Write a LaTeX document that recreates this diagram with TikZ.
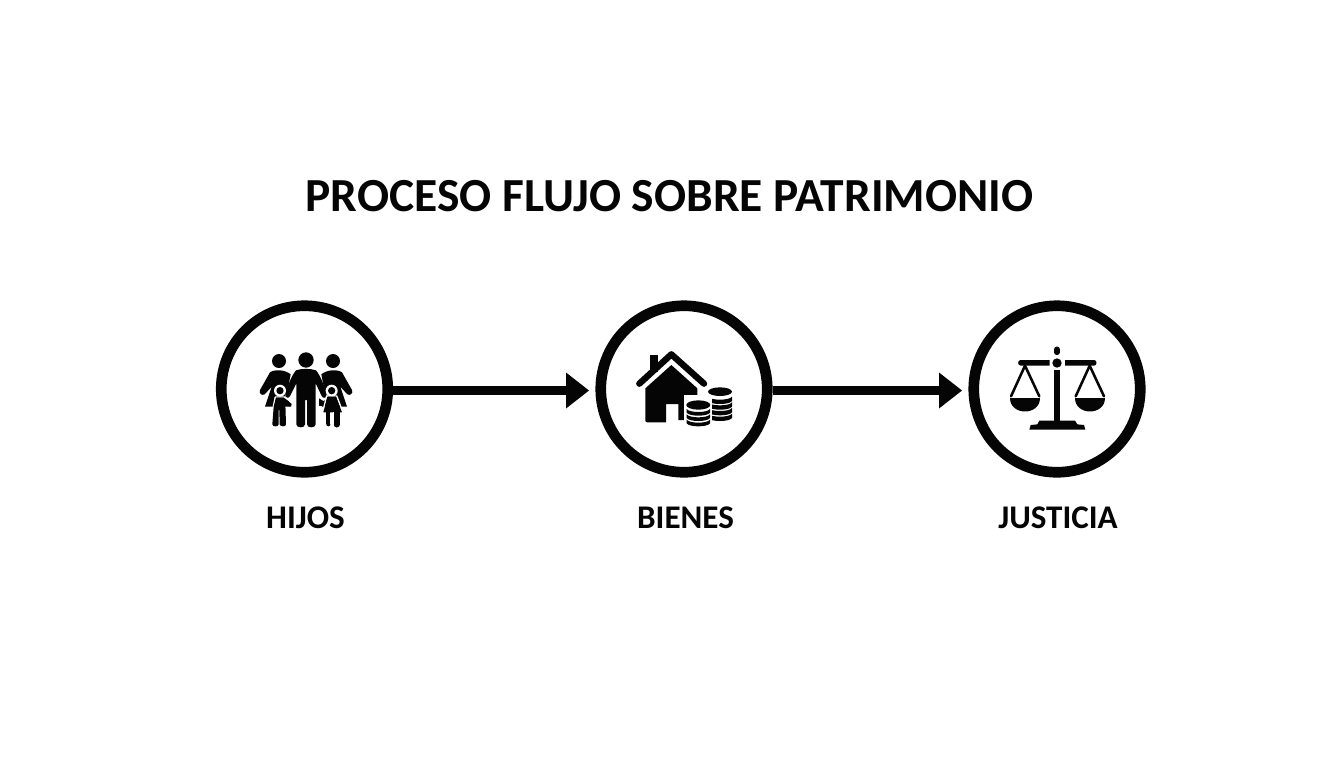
\documentclass[tikz,border=0pt]{standalone}
\usepackage{fontspec}
\setmainfont{Carlito}
\definecolor{ink}{HTML}{050505}
\tikzset{
  x=0.75pt,y=-0.75pt,
  ring/.style={circle,draw=ink,line width=8pt,fill=white,minimum size=166.5*0.75pt,inner sep=0pt},
  conn/.style={draw=ink,line width=7.4pt},
  head/.style={fill=ink,draw=none},
  lbl/.style={font=\bfseries\fontsize{24.8}{28}\selectfont,text=ink,inner sep=0pt,anchor=base},
  ttl/.style={font=\bfseries\fontsize{35.6}{40}\selectfont,text=ink,inner sep=0pt,anchor=base},
  icl/.style={draw=ink,line cap=round,line join=round},
  halo/.style={draw=white,line width=1.1pt,line cap=round,line join=round},
}
\begin{document}
\begin{tikzpicture}
\useasboundingbox (0,0) rectangle (1344,768);
\fill[white] (0,0) rectangle (1344,768);
\node[ttl] (title) at (669.5,211) {PROCESO FLUJO SOBRE PATRIMONIO};
\node[ring] (c1) at (304.5,389) {};
\node[ring] (c2) at (684,389) {};
\node[ring] (c3) at (1057,389) {};
\coordinate (t1) at (589,390.5);
\coordinate (t2) at (962,390.5);
\draw[conn] (c1.east |- t1) -- ([xshift=-17pt]t1);
\fill[head] (t1) -- ++(-23,-18) -- ++(0,36) -- cycle;
\draw[conn] (c2.east |- t2) -- ([xshift=-17pt]t2);
\fill[head] (t2) -- ++(-23,-18) -- ++(0,36) -- cycle;
\node[lbl] (l1) at (305.5,528) {HIJOS};
\node[lbl] (l2) at (685.5,528) {BIENES};
\node[lbl] (l3) at (1058,528) {JUSTICIA};
% family
\begin{scope}[shift={(210,295)},x=0.25pt,y=-0.25pt]
 \fill[ink] (207,198) circle (21);
 \fill[ink] (369,198) circle (21);
 \fill[ink] (288,195) circle (23);
 % left adult
 \fill[ink] (180,232) .. controls (195,222) and (225,224) .. (242,238) -- (232,290) -- (240,335) -- (165,335) -- (185,275) -- (164,298) .. controls (155,303) and (146,295) .. (150,285) -- cycle;
 % right adult
 \fill[ink] (396,232) .. controls (381,222) and (351,224) .. (334,238) -- (344,290) -- (336,335) -- (411,335) -- (391,275) -- (412,298) .. controls (421,303) and (430,295) .. (426,285) -- cycle;
 % father
 \path[fill=white] (222,310) -- (255,225) -- (322,225) -- (356,310) -- (335,320) -- (322,390) -- (255,390) -- (240,320) -- cycle;
 \fill[ink] (258,226) .. controls (275,220) and (301,220) .. (318,226) .. controls (330,240) and (345,275) .. (350,298) .. controls (352,310) and (340,312) .. (335,303) -- (317,265) -- (317,388) .. controls (317,400) and (291,400) .. (291,388) -- (291,315) -- (285,315) -- (285,388) .. controls (285,400) and (259,400) .. (259,388) -- (259,265) -- (240,303) .. controls (235,312) and (223,310) .. (226,298) .. controls (231,275) and (246,240) .. (258,226) -- cycle;
 % left child
 \fill[white] (210,287) circle (18);
 \fill[ink] (210,287) circle (11);
 \draw[halo] (190,335) -- (196,306) -- (224,306) -- (247,322);
 \fill[ink] (198,308) -- (222,308) -- (245,327) .. controls (248,335) and (240,338) .. (236,334) -- (226,325) -- (228,388) .. controls (228,396) and (210,396) .. (209,388) -- (208,345) -- (206,345) -- (206,388) .. controls (205,396) and (187,396) .. (187,388) -- (191,335) -- cycle;
 % right child
 \fill[white] (365,287) circle (18);
 \fill[ink] (365,287) circle (11);
 \fill[ink] (327,310) -- (343,320) -- (340,334) -- (327,332) -- cycle;
 \draw[halo] (338,352) -- (350,303) -- (380,303) -- (398,350);
 \fill[ink] (352,305) -- (378,305) -- (396,352) -- (340,352) -- cycle;
 \fill[ink] (349,352) rectangle (361,388);
 \fill[ink] (355,388) circle (6);
 \fill[ink] (371,335) rectangle (390,388);
 \fill[ink] (380.5,388) circle (9.5);
 \fill[white] (367.5,352) rectangle (370.5,392);
\end{scope}
% house + coins
\begin{scope}[shift={(590,295)},x=0.25pt,y=-0.25pt]
 \fill[ink] (179,180) rectangle (205,230);
 \draw[icl,line width=4.8pt] (148,266) -- (244,178) -- (342,266);
 \fill[ink] (166,280) -- (244,210) -- (322,280) -- (322,375) -- (265,375) -- (265,327) -- (228,327) -- (228,382) -- (172,382) .. controls (168,382) and (166,380) .. (166,376) -- cycle;
 % rear stack
 \fill[white] (283,300) rectangle (430,400);
 \fill[ink] (390,290) ellipse (36 and 13);
 \foreach \yy in {305,322,339,356}{
  \fill[ink] (354,\yy) -- (354,\yy+13) .. controls (362,\yy+25) and (418,\yy+25) .. (426,\yy+13) -- (426,\yy) .. controls (418,\yy+12) and (362,\yy+12) .. (354,\yy) -- cycle;
 }
 % front stack
 \fill[white] (283,305) rectangle (365,405);
 \fill[ink] (325,330) ellipse (36 and 14);
 \foreach \yy in {345,361,377}{
  \fill[ink] (290,\yy-3) -- (290,\yy+8) .. controls (298,\yy+20) and (352,\yy+20) .. (360,\yy+8) -- (360,\yy-3) .. controls (352,\yy+9) and (298,\yy+9) .. (290,\yy-3) -- cycle;
 }
\end{scope}
% scales
\begin{scope}[shift={(960,295)},x=0.25pt,y=-0.25pt]
 \draw[icl,line width=4.2pt] (291,163) -- (291,172);
 \fill[ink] (291,204) circle (14);
 \fill[ink] (182,195) -- (269,195) -- (269,212) -- (182,212) .. controls (172,212) and (172,195) .. (182,195) -- cycle;
 \fill[ink] (315,195) -- (402,195) .. controls (412,195) and (412,212) .. (402,212) -- (315,212) -- cycle;
 \fill[ink] (282,226) rectangle (301,380);
 \fill[ink] (238,377) -- (345,377) -- (352,388) -- (372,390) -- (376,404) -- (208,404) -- (212,390) -- (232,388) -- cycle;
 \draw[icl,line width=1.9pt] (153,304) -- (195,212) -- (238,304);
 \draw[icl,line width=1.9pt] (347,304) -- (389,212) -- (432,304);
 \fill[ink] (150,308) -- (241,308) .. controls (241,362) and (150,362) .. (150,308) -- cycle;
 \fill[ink] (344,308) -- (435,308) .. controls (435,362) and (344,362) .. (344,308) -- cycle;
\end{scope}
\end{tikzpicture}
\end{document}
